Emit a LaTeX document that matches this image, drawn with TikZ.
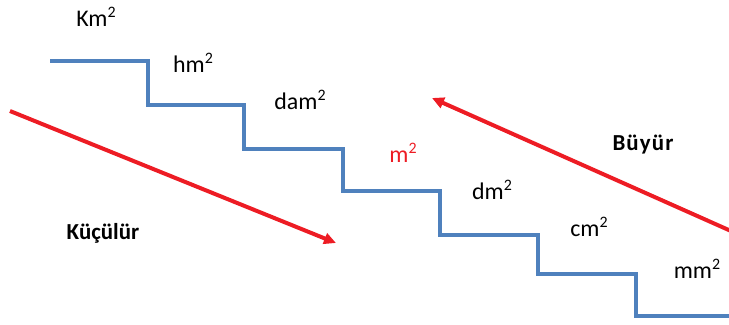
\documentclass[tikz,border=0pt]{standalone}
\usepackage{fontspec}
\setmainfont{Carlito}
\usetikzlibrary{arrows.meta}
\definecolor{stairblue}{RGB}{79,129,189}
\definecolor{arrowred}{RGB}{237,28,36}
\newcommand{\sq}{\raisebox{0.4em}{\fontsize{16}{16}\selectfont 2}}
\begin{document}
\begin{tikzpicture}[x=1bp,y=-1bp,
	unit/.style={inner sep=0,font=\fontsize{24}{28}\selectfont},
	word/.style={inner sep=0,font=\fontsize{23}{27}\selectfont\bfseries},
	stair/.style={stairblue,line width=3.5bp},
	trend/.style={arrowred,line width=4bp,-{Triangle[length=12bp,width=11bp]}}]
\useasboundingbox (0,0) rectangle (729,324);
% units
\node[unit] (km) at (96,17) {Km\sq};
\node[unit] (hm) at (193,63) {hm\sq};
\node[unit] (dam) at (300,100) {dam\sq};
\node[unit,text=arrowred] (m) at (403,153) {m\sq};
\node[unit] (dm) at (492,190) {dm\sq};
\node[unit] (cm) at (589,227) {cm\sq};
\node[unit] (mm) at (697,269) {mm\sq};
% stairs
\draw[stair] (50,61) -| (148,105) -| (244,149) -| (343,191) -| (440,235) -| (538,274) -| (636,316) -- (729,316);
% arrows
\coordinate (s1) at (10,111);
\coordinate (e1) at (336,243);
\coordinate (s2) at (731,231);
\coordinate (e2) at (432,98);
\draw[trend] (s1) -- (e1);
\draw[trend] (s2) -- (e2);
\node[word] (small) at (103,233) {Küçülür};
\node[word] (big) at (643,145) {\addfontfeature{LetterSpace=5}Büyür};
\end{tikzpicture}
\end{document}
